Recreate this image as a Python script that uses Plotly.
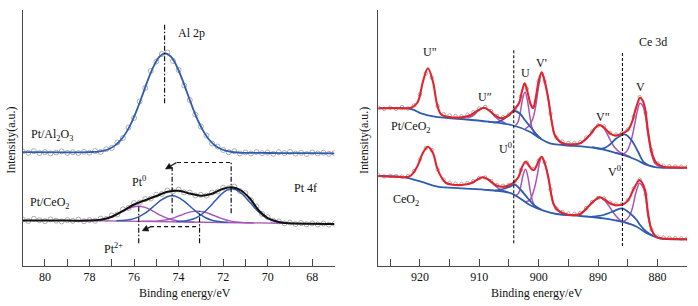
import plotly.graph_objects as go

# ---------------- LEFT PANEL (Pt 4f / Al 2p) ----------------
left_data_e = [81.0, 80.75, 80.5, 80.25, 80.0, 79.75, 79.5, 79.25, 79.0, 78.75, 78.5, 78.25, 78.0,
               77.75, 77.5, 77.25, 77.0, 76.75, 76.5, 76.25, 76.0, 75.75, 75.5, 75.25, 75.0,
               74.75, 74.5, 74.25, 74.0, 73.75, 73.5, 73.25, 73.0, 72.75, 72.5, 72.25, 72.0,
               71.75, 71.5, 71.25, 71.0, 70.75, 70.5, 70.25, 70.0, 69.75, 69.5, 69.25, 69.0,
               68.75, 68.5, 68.25, 68.0, 67.75, 67.5, 67.25, 67.0]
al_data_y = [114.5, 113.2, 114.8, 113.0, 113.9, 112.6, 113.5, 114.6, 113.1, 113.8, 112.9, 114.2, 113.3,
             114.9, 114.0, 116.8, 118.0, 123.5, 128.0, 138.5, 148.0, 164.5, 178.0, 195.0, 204.5,
             212.0, 213.5, 205.0, 196.0, 180.5, 166.0, 151.5, 139.5, 130.5, 122.5, 119.5, 116.0,
             113.8, 114.8, 112.5, 113.6, 112.4, 113.9, 112.8, 113.5, 112.2, 113.8, 112.9, 114.0,
             112.4, 113.2, 112.0, 113.6, 112.5, 113.3, 112.1, 112.9]
pt_data_y = [46.5, 45.0, 47.2, 45.8, 44.9, 46.6, 45.3, 44.6, 46.0, 45.1, 46.3, 44.8, 45.9,
             45.2, 47.4, 47.0, 50.6, 51.5, 56.6, 58.0, 62.9, 63.4, 66.9, 67.5, 71.3,
             72.0, 75.5, 74.6, 76.4, 73.6, 73.4, 70.6, 71.2, 70.4, 73.4, 74.5, 78.3,
             78.0, 79.4, 75.0, 72.9, 65.8, 59.5, 52.0, 48.9, 45.2, 44.6, 42.6, 43.4,
             41.9, 42.9, 41.7, 42.6, 41.5, 42.5, 41.3, 42.3]

al_fit_e = [81.0, 79.0, 78.1, 77.85, 77.6, 77.35, 77.1, 76.85, 76.6, 76.35, 76.1, 75.85, 75.6, 75.35,
            75.1, 74.85, 74.6, 74.35, 74.1, 73.85, 73.6, 73.35, 73.1, 72.85, 72.6, 72.35, 72.1,
            71.85, 71.6, 71.35, 71.1, 70.0, 69.0, 68.0, 67.0]
al_fit_y = [113.8, 113.6, 113.8, 114.0, 114.4, 115.4, 117.3, 120.6, 125.8, 133.6, 144.2, 157.4, 172.4, 187.6,
            200.6, 209.5, 212.7, 209.5, 200.5, 187.4, 172.2, 157.2, 144.0, 133.4, 125.5, 120.3, 117.0,
            115.1, 114.0, 113.5, 113.2, 113.0, 112.9, 112.8, 112.7]

pt_fit_e = [81.0, 80.0, 79.0, 78.0, 77.5, 77.0, 76.5, 76.0, 75.5, 75.0, 74.5, 74.0, 73.5, 73.0,
            72.5, 72.0, 71.6, 71.2, 70.8, 70.4, 70.0, 69.5, 69.0, 68.0, 67.0]
pt_fit_y = [45.6, 45.5, 45.4, 45.4, 46.3, 49.3, 55.2, 61.5, 65.8, 70.0, 74.2, 75.2, 72.5, 70.3,
            72.3, 77.2, 78.7, 75.5, 67.5, 55.5, 48.0, 44.0, 42.7, 42.2, 42.0]

pt_bg_e = [78.0, 67.0]
pt_bg_y = [45.35, 42.0]

pt0_52_e = [76.79, 76.54, 76.29, 76.04, 75.79, 75.54, 75.29, 75.04, 74.79, 74.54, 74.29,
            74.04, 73.79, 73.54, 73.29, 73.04, 72.79, 72.54, 72.29, 72.04, 71.79]
pt0_52_y = [45.19, 45.41, 45.98, 47.14, 49.15, 52.27, 56.44, 61.22, 65.77, 69.05, 70.22,
            68.89, 65.47, 60.76, 55.83, 51.51, 48.24, 46.07, 44.75, 44.04, 43.66]
pt0_72_e = [74.1, 73.85, 73.6, 73.35, 73.1, 72.85, 72.6, 72.35, 72.1, 71.85, 71.6,
            71.35, 71.1, 70.85, 70.6, 70.35, 70.1, 69.85, 69.6, 69.35, 69.1]
pt0_72_y = [44.43, 44.74, 45.50, 47.03, 49.67, 53.76, 59.19, 65.43, 71.38, 75.66, 77.2,
            75.51, 71.07, 64.97, 58.58, 52.99, 48.76, 45.96, 44.28, 43.37, 42.90]
pt2_52_e = [78.3, 78.05, 77.8, 77.55, 77.3, 77.05, 76.8, 76.55, 76.3, 76.05, 75.8,
            75.55, 75.3, 75.05, 74.8, 74.55, 74.3, 74.05, 73.8, 73.55, 73.3]
pt2_52_y = [45.51, 45.54, 45.72, 46.21, 47.17, 48.8, 51.16, 54.01, 56.86, 58.95, 59.69,
            58.8, 56.55, 53.56, 50.55, 48.03, 46.26, 45.14, 44.5, 44.17, 43.98]
pt2_72_e = [75.65, 75.4, 75.15, 74.9, 74.65, 74.4, 74.15, 73.9, 73.65, 73.4, 73.15,
            72.9, 72.65, 72.4, 72.15, 71.9, 71.65, 71.4, 71.15, 70.9, 70.65]
pt2_72_y = [44.68, 44.68, 44.8, 45.14, 45.82, 47.0, 48.7, 50.78, 52.84, 54.36, 54.88,
            54.21, 52.53, 50.33, 48.09, 46.24, 44.91, 44.07, 43.58, 43.31, 43.16]

left_ticks = [80, 79, 78, 77, 76, 75, 74, 73, 72, 71, 70, 69, 68, 67]
left_ticktext = ["80", "", "78", "", "76", "", "74", "", "72", "", "70", "", "68", ""]

# ---------------- RIGHT PANEL (Ce 3d) ----------------
right_data_e = [927, 926, 925, 924, 923, 922, 921, 920, 919, 918, 917, 916, 915, 914, 913, 912, 911,
                910, 909, 908, 907, 906, 905, 904, 903, 902, 901, 900, 899, 898, 897, 896, 895, 894,
                893, 892, 891, 890, 889, 888, 887, 886, 885, 884, 883, 882, 881, 880, 879, 878, 877,
                876, 875]
rt_data_y = [158.5, 157.0, 158.3, 157.2, 158.9, 157.6, 160.5, 171.5, 192.5, 188.5,
             160.0, 151.8, 150.6, 150.0, 149.8, 151.2, 153.8, 157.5, 159.0, 154.8,
             150.0, 148.8, 151.5, 157.5, 169.5, 177.0, 159.0, 185.0, 184.5, 152.5,
             128.5, 124.5, 123.0, 122.9, 123.9, 128.5, 134.5, 140.5, 139.5, 133.2,
             131.3, 132.6, 136.5, 149.5, 168.8, 153.0, 115.5, 102.5, 100.2, 99.8,
             99.5, 99.3, 99.0]
rb_data_y = [90.8, 89.6, 90.2, 89.9, 89.4, 90.0, 95.0, 106.5, 117.8, 116.0,
             96.5, 86.5, 83.2, 82.4, 82.0, 83.0, 84.8, 88.0, 88.5, 85.0,
             81.0, 80.2, 81.2, 84.9, 96.0, 103.5, 97.0, 105.5, 103.5, 76.5,
             57.5, 54.0, 52.5, 52.2, 53.0, 58.0, 64.0, 68.0, 67.5, 63.5,
             61.6, 62.0, 66.0, 77.5, 86.5, 71.5, 36.5, 29.5, 28.5, 28.2,
             27.9, 27.6, 27.5]

rt_fit_e = [927.0, 924.0, 921.5, 920.4, 919.5, 918.65, 917.8, 917.1, 916.4, 915.0, 913.0, 911.5,
            910.3, 909.2, 908.2, 907.3, 906.4, 905.5, 904.9, 904.1, 903.3, 902.8, 902.35, 901.8,
            901.4, 900.95, 900.5, 900.0, 899.5, 899.0, 898.4, 897.8, 897.3, 896.4, 895.5, 894.7,
            893.0, 891.4, 890.5, 889.8, 889.0, 888.0, 887.2, 886.6, 885.8, 885.0, 884.6, 884.2,
            883.8, 883.35, 882.95, 882.5, 882.1, 881.6, 881.0, 880.5, 880.1, 879.0, 877.0, 875.0]
rt_fit_y = [157.7, 157.8, 158.2, 163.5, 184.0, 197.7, 184.3, 161.5, 151.5, 149.0, 148.6, 150.8,
            155.3, 158.3, 155.0, 150.3, 147.8, 149.0, 151.7, 156.5, 163.0, 175.0, 182.7, 172.0,
            162.5, 158.0, 168.0, 185.0, 193.7, 185.0, 167.7, 144.3, 131.0, 124.3, 122.0, 121.7,
            122.7, 131.0, 138.0, 141.0, 138.5, 132.7, 130.5, 131.0, 132.7, 136.0, 139.5, 145.5,
            154.3, 163.0, 168.3, 165.5, 157.7, 135.0, 114.5, 106.0, 102.5, 99.3, 98.6, 98.3]
rb_fit_e = [927.0, 924.0, 922.6, 921.5, 920.4, 919.5, 918.65, 917.8, 917.1, 916.4, 915.6, 914.5,
            913.0, 911.4, 910.3, 909.4, 908.5, 908.0, 907.2, 906.3, 905.5, 904.9, 904.2, 903.4,
            902.8, 902.2, 901.6, 901.2, 900.8, 900.3, 899.9, 899.5, 899.0, 898.4, 897.9, 897.5,
            896.9, 896.4, 895.5, 894.7, 893.0, 891.4, 890.5, 889.7, 888.9, 888.0, 887.2, 886.3,
            885.5, 884.8, 884.1, 883.5, 883.05, 882.6, 882.1, 881.6, 881.1, 880.7, 880.2, 879.6,
            877.0, 875.0]
rb_fit_y = [90.0, 89.2, 88.8, 90.5, 100.0, 113.0, 119.3, 113.0, 98.0, 89.0, 83.0, 81.3,
            81.0, 82.7, 86.5, 88.7, 86.5, 84.3, 80.8, 79.3, 79.6, 81.0, 83.5, 89.0,
            99.0, 104.3, 100.0, 97.0, 96.0, 101.0, 106.5, 109.3, 103.0, 89.3, 72.0, 62.0,
            56.5, 54.3, 52.0, 51.0, 52.0, 61.0, 66.0, 68.7, 66.5, 62.7, 61.0, 61.0,
            62.7, 67.0, 76.0, 82.5, 86.0, 83.5, 76.0, 53.5, 38.0, 32.7, 29.0, 27.7,
            27.0, 26.7]

rt_bg_e = [927.0, 921.5, 919.8, 917.5, 913.0, 908.5, 904.6, 901.5, 899.8, 898.1, 895.9, 890.2,
           885.8, 883.5, 881.8, 880.1, 875.0]
rt_bg_y = [157.7, 157.0, 152.7, 149.3, 147.0, 144.3, 141.0, 134.3, 127.7, 122.7, 121.0, 117.7,
           111.0, 106.0, 101.0, 98.7, 98.3]
rb_bg_e = [927.0, 922.6, 919.8, 917.0, 913.0, 908.5, 904.6, 901.5, 899.2, 897.0, 893.0, 889.1,
           886.0, 883.5, 881.8, 879.6, 875.0]
rb_bg_y = [90.0, 88.7, 84.3, 79.3, 77.7, 76.0, 72.7, 61.0, 55.3, 52.0, 50.0, 47.7,
           44.3, 39.3, 32.7, 27.7, 26.7]

rt_u0_e = [908.5, 907.3, 906.3, 904.9, 904.0, 903.1, 902.4, 901.3, 900.4, 899.6]
rt_u0_y = [144.3, 143.6, 145.5, 151.5, 155.0, 152.0, 146.5, 138.5, 132.0, 127.3]
rt_v0_e = [891.0, 889.1, 888.0, 886.9, 885.5, 884.4, 883.3, 882.4, 881.5, 880.5]
rt_v0_y = [118.8, 117.5, 121.5, 127.7, 131.7, 126.0, 114.5, 104.5, 100.8, 99.2]
rb_u0_e = [907.4, 905.7, 904.6, 904.06, 903.0, 901.8, 900.7, 899.6]
rb_u0_y = [75.2, 77.5, 80.0, 81.5, 76.0, 67.5, 60.5, 56.5]
rb_v0_e = [891.0, 889.1, 887.5, 886.0, 884.6, 883.5, 883.0, 881.8, 880.7]
rb_v0_y = [49.3, 51.0, 54.5, 57.7, 52.5, 46.0, 41.5, 34.0, 30.3]

rt_u_e = [903.9, 903.5, 903.1, 902.7, 902.3, 901.9, 901.5, 901.1, 900.7, 900.2]
rt_u_y = [140.5, 143.7, 153.4, 167.3, 174.0, 165.6, 150.0, 137.9, 132.3, 129.3]
rt_vp_e = [902.3, 901.5, 900.95, 900.5, 900.0, 899.5, 899.0, 898.4, 897.8, 897.3, 896.4, 895.5]
rt_vp_y = [137.0, 141.0, 148.0, 160.0, 180.0, 193.7, 185.0, 167.7, 144.3, 131.0, 123.5, 121.2]
rt_upp_e = [912.0, 911.0, 910.2, 909.2, 908.2, 907.3, 906.4, 905.5]
rt_upp_y = [148.3, 150.5, 155.0, 158.3, 154.8, 149.0, 145.0, 142.5]
rt_vpp_e = [893.0, 891.4, 890.5, 889.8, 889.0, 888.0, 887.2, 886.3, 885.5, 884.5]
rt_vpp_y = [122.5, 131.0, 138.0, 141.0, 137.5, 126.5, 118.5, 113.5, 111.5, 108.8]
rt_v_e = [887.0, 886.0, 885.2, 884.65, 884.2, 883.8, 883.35, 882.95, 882.5, 882.1, 881.6, 881.0, 880.4, 879.5]
rt_v_y = [113.5, 111.8, 114.5, 121.5, 131.0, 143.0, 156.0, 162.7, 160.5, 152.7, 131.5, 111.5, 102.5, 99.0]

rb_u_e = [903.8, 903.4, 903.0, 902.6, 902.2, 901.8, 901.4, 901.0, 900.6, 900.2]
rb_u_y = [70.5, 72.6, 80.1, 91.6, 96.7, 88.6, 74.3, 64.3, 59.7, 57.8]
rb_vp_e = [902.3, 901.5, 900.8, 900.2, 899.9, 899.5, 899.0, 898.4, 897.9, 897.5, 896.9, 896.0, 895.0]
rb_vp_y = [64.3, 66.0, 76.0, 92.0, 102.0, 109.3, 103.0, 89.3, 72.0, 62.0, 56.0, 52.5, 51.2]
rb_upp_e = [912.0, 911.0, 910.3, 909.4, 908.5, 908.0, 907.2, 906.3, 905.5]
rb_upp_y = [81.5, 83.8, 86.5, 88.7, 86.5, 84.0, 79.5, 76.0, 74.5]
rb_vpp_e = [893.0, 891.4, 890.5, 889.7, 888.9, 888.0, 887.2, 886.3, 885.5, 884.5]
rb_vpp_y = [52.0, 61.0, 66.0, 68.7, 65.5, 58.5, 51.5, 46.0, 44.0, 41.5]
rb_v_e = [887.0, 886.0, 885.2, 884.65, 884.2, 883.8, 883.4, 883.05, 882.6, 882.1, 881.6, 881.0, 880.2, 879.3]
rb_v_y = [46.0, 44.3, 46.5, 51.0, 58.5, 69.3, 78.0, 82.7, 80.5, 72.7, 50.0, 36.0, 29.3, 27.5]

right_ticks = [925, 920, 915, 910, 905, 900, 895, 890, 885, 880, 875]
right_ticktext = ["", "920", "", "910", "", "900", "", "890", "", "880", ""]

# ---------------- styling ----------------
SERIF = "Liberation Serif, Times New Roman, serif"
BLUE = "#2f5cb0"
RED = "#e3242b"
PURPLE = "#a855b8"
BLACK = "#111111"
GREY = "#9a9a9a"
AXIS = "#4a4a4a"

fig = go.Figure()


def curve(x, y, color, width, xa, ya, shape="spline", dash=None):
    fig.add_trace(go.Scatter(
        x=x, y=y, mode="lines", xaxis=xa, yaxis=ya, hoverinfo="skip", showlegend=False,
        line=dict(color=color, width=width, shape=shape, smoothing=1.0, dash=dash)))


def dots(x, y, size, xa, ya):
    fig.add_trace(go.Scatter(
        x=x, y=y, mode="markers", xaxis=xa, yaxis=ya, hoverinfo="skip", showlegend=False,
        marker=dict(symbol="circle-open", size=size, color=GREY, line=dict(width=0.8, color=GREY))))


def arrow(shaft_x, shaft_y, head_x, head_y, xa, ya):
    # shaft: tail -> base of head ; head: filled triangle (tip, base corners)
    fig.add_trace(go.Scatter(
        x=shaft_x, y=shaft_y, mode="lines", xaxis=xa, yaxis=ya, hoverinfo="skip", showlegend=False,
        line=dict(color=BLACK, width=1.3)))
    fig.add_trace(go.Scatter(
        x=head_x, y=head_y, mode="lines", fill="toself", fillcolor=BLACK, xaxis=xa, yaxis=ya,
        hoverinfo="skip", showlegend=False, line=dict(color=BLACK, width=0.6)))


# left panel
dots(left_data_e, al_data_y, 5, "x", "y")
dots(left_data_e, pt_data_y, 5, "x", "y")
curve(al_fit_e, al_fit_y, BLUE, 1.8, "x", "y")
curve(pt_bg_e, pt_bg_y, PURPLE, 1.4, "x", "y", shape="linear")
curve(pt2_52_e, pt2_52_y, PURPLE, 1.4, "x", "y")
curve(pt2_72_e, pt2_72_y, PURPLE, 1.4, "x", "y")
curve(pt0_52_e, pt0_52_y, BLUE, 1.5, "x", "y")
curve(pt0_72_e, pt0_72_y, BLUE, 1.5, "x", "y")
curve(pt_fit_e, pt_fit_y, BLACK, 2.0, "x", "y")

DASHDOT = "5px,2px,1.5px,2px"
DASH = "4px,3px"
curve([74.63, 74.63], [162.7, 242.0], BLACK, 1.2, "x", "y", "linear", DASHDOT)
curve([74.29, 74.29], [52.7, 99.0], BLACK, 1.2, "x", "y", "linear", DASHDOT)
curve([71.64, 71.64], [52.7, 103.5], BLACK, 1.2, "x", "y", "linear", DASHDOT)
curve([75.79, 75.79], [22.7, 61.0], BLACK, 1.2, "x", "y", "linear", DASHDOT)
curve([73.06, 73.06], [22.7, 55.0], BLACK, 1.2, "x", "y", "linear", DASHDOT)
curve([74.07, 71.64], [103.5, 103.5], BLACK, 1.2, "x", "y", "linear", DASH)
curve([75.28, 73.06], [39.3, 39.3], BLACK, 1.2, "x", "y", "linear", DASH)
arrow([74.095, 74.356], [103.5, 100.0],
      [74.589, 74.288, 74.423, 74.589], [97.0, 97.4, 102.6, 97.0], "x", "y")
arrow([75.26, 75.388], [39.3, 37.7],
      [75.635, 75.335, 75.442, 75.635], [35.3, 35.0, 40.4, 35.3], "x", "y")

# right panel
for ey in [(right_data_e, rt_data_y), (right_data_e, rb_data_y)]:
    dots(ey[0], ey[1], 3.5, "x2", "y2")
for e, y in [(rt_upp_e, rt_upp_y), (rt_u_e, rt_u_y), (rt_vp_e, rt_vp_y), (rt_vpp_e, rt_vpp_y),
             (rt_v_e, rt_v_y), (rb_upp_e, rb_upp_y), (rb_u_e, rb_u_y), (rb_vp_e, rb_vp_y),
             (rb_vpp_e, rb_vpp_y), (rb_v_e, rb_v_y)]:
    curve(e, y, PURPLE, 1.5, "x2", "y2")
for e, y in [(rt_u0_e, rt_u0_y), (rt_v0_e, rt_v0_y), (rb_u0_e, rb_u0_y), (rb_v0_e, rb_v0_y),
             (rt_bg_e, rt_bg_y), (rb_bg_e, rb_bg_y)]:
    curve(e, y, BLUE, 1.8, "x2", "y2")
curve(rt_fit_e, rt_fit_y, RED, 2.1, "x2", "y2")
curve(rb_fit_e, rb_fit_y, RED, 2.1, "x2", "y2")
curve([904.2, 904.2], [22.7, 217.7], BLACK, 1.1, "x2", "y2", "linear", "3px,2px")
curve([885.9, 885.9], [20.0, 213.3], BLACK, 1.1, "x2", "y2", "linear", "3px,2px")

# ---------------- annotations ----------------
ann = []


def label(text, x, y, xa, ya, xanchor="center", size=12):
    ann.append(dict(text=text, x=x, y=y, xref=xa, yref=ya, showarrow=False, xanchor=xanchor,
                    yanchor="middle", font=dict(family=SERIF, size=size, color=BLACK)))


label("Al 2p", 74.1, 232.7, "x", "y", "left")
label("Pt/Al<sub>2</sub>O<sub>3</sub>", 80.73, 131.0, "x", "y", "left")
label("Pt<sup>0</sup>", 75.79, 84.3, "x", "y")
label("Pt 4f", 68.3, 77.7, "x", "y")
label("Pt/CeO<sub>2</sub>", 80.77, 62.7, "x", "y", "left")
label("Pt<sup>2+</sup>", 76.91, 17.7, "x", "y")

label('U"', 918.3, 214.3, "x2", "y2")
label("U\u2033", 909.05, 168.7, "x2", "y2")
label("U", 902.3, 193.3, "x2", "y2")
label("V'", 899.6, 203.3, "x2", "y2")
label('V"', 889.1, 149.3, "x2", "y2")
label("V", 882.8, 178.7, "x2", "y2")
label("Ce 3d", 880.7, 224.3, "x2", "y2")
label("Pt/CeO<sub>2</sub>", 925.2, 138.7, "x2", "y2", "left")
label("U<sup>0</sup>", 905.6, 118.0, "x2", "y2")
label("V<sup>0</sup>", 887.2, 94.3, "x2", "y2")
label("CeO<sub>2</sub>", 924.8, 66.0, "x2", "y2", "left")

# axis titles
for txt, xp, yp, ang in [("Binding energy/eV", 185 / 698, (306 - 293) / 306, 0),
                         ("Binding energy/eV", 536.7 / 698, (306 - 293) / 306, 0),
                         ("Intensity(a.u.)", 10.8 / 698, (306 - 140) / 306, -90),
                         ("Intensity(a.u.)", 364 / 698, (306 - 140) / 306, -90)]:
    ann.append(dict(text=txt, x=xp, y=yp, xref="paper", yref="paper", showarrow=False,
                    xanchor="center", yanchor="middle", textangle=ang,
                    font=dict(family=SERIF, size=12, color=BLACK)))

xcommon = dict(showline=True, linecolor=AXIS, linewidth=1, ticks="inside", ticklen=7, tickwidth=1,
               tickcolor=AXIS, showgrid=False, zeroline=False, automargin=False,
               tickfont=dict(family=SERIF, size=12, color=BLACK))
ycommon = dict(showline=True, linecolor=AXIS, linewidth=1, ticks="inside", ticklen=8, tickwidth=1,
               tickcolor=AXIS, showgrid=False, zeroline=False, range=[0, 256], automargin=False,
               tickvals=[256], ticktext=[""], domain=[40 / 306, 296 / 306])

fig.update_layout(
    width=698, height=306,
    margin=dict(l=0, r=0, t=0, b=0),
    paper_bgcolor="white", plot_bgcolor="white",
    showlegend=False,
    xaxis=dict(domain=[22.7 / 698, 334.5 / 698], range=[81, 67], anchor="y",
               tickvals=left_ticks, ticktext=left_ticktext, **xcommon),
    yaxis=dict(anchor="x", **ycommon),
    xaxis2=dict(domain=[378.3 / 698, 687.2 / 698], range=[927, 875], anchor="y2",
                tickvals=right_ticks, ticktext=right_ticktext, **xcommon),
    yaxis2=dict(anchor="x2", **ycommon),
    annotations=ann,
)

fig.write_html("out.html", config={"displayModeBar": False},
               post_script="document.body.style.margin='0px';")
